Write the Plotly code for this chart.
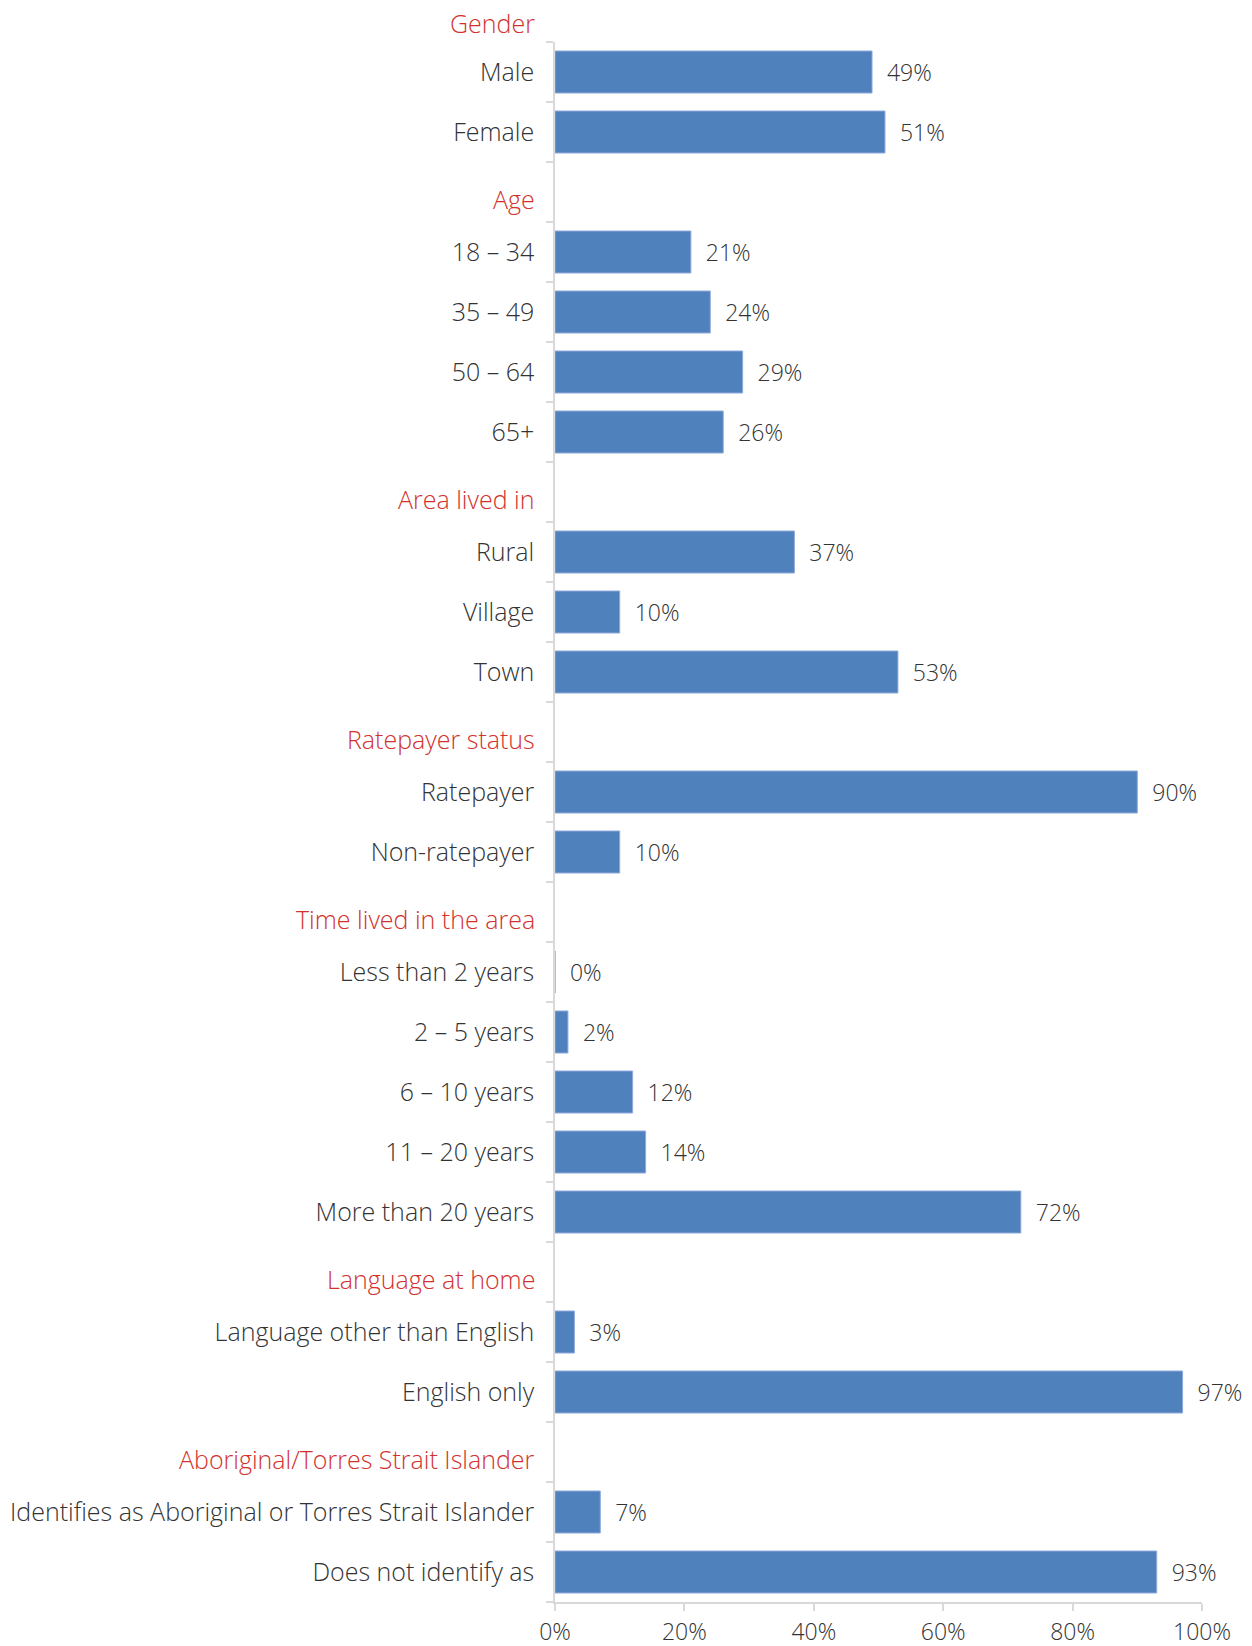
import plotly.graph_objects as go

# ---- data ----
group_names = ["Gender", "Age", "Area lived in", "Ratepayer status",
               "Time lived in the area", "Language at home",
               "Aboriginal/Torres Strait Islander"]

gender_labels = ["Male", "Female"]
gender_values = [49, 51]

age_labels = ["18 – 34", "35 – 49", "50 – 64", "65+"]
age_values = [21, 24, 29, 26]

area_labels = ["Rural", "Village", "Town"]
area_values = [37, 10, 53]

ratepayer_labels = ["Ratepayer", "Non-ratepayer"]
ratepayer_values = [90, 10]

time_labels = ["Less than 2 years", "2 – 5 years", "6 – 10 years",
               "11 – 20 years", "More than 20 years"]
time_values = [0, 2, 12, 14, 72]

language_labels = ["Language other than English", "English only"]
language_values = [3, 97]

atsi_labels = ["Identifies as Aboriginal or Torres Strait Islander",
               "Does not identify as"]
atsi_values = [7, 93]

x_tick_values = [0, 20, 40, 60, 80, 100]
x_tick_labels = ["0%", "20%", "40%", "60%", "80%", "100%"]

# ---- assemble categories (header rows are empty) ----
groups = [
    (gender_labels, gender_values),
    (age_labels, age_values),
    (area_labels, area_values),
    (ratepayer_labels, ratepayer_values),
    (time_labels, time_values),
    (language_labels, language_values),
    (atsi_labels, atsi_values),
]

cats, vals, texts, ticktext = [], [], [], []
for i, (name, (labels, values)) in enumerate(zip(group_names, groups)):
    if i > 0:
        cats.append(name)
        vals.append(None)
        texts.append("")
        ticktext.append("")
    for lab, v in zip(labels, values):
        cats.append(lab)
        vals.append(v)
        texts.append("\u00a0\u00a0" + f"{v}%")
        ticktext.append(lab)

FONT = "Open Sans"
WEIGHT = 300
TXT = "#333333"
RED = "#D2322D"
FS_CAT = 25
FS_NUM = 23

fig = go.Figure(go.Bar(
    x=vals, y=cats, orientation="h",
    marker=dict(color="#4F81BD", line=dict(color="#8EAADB", width=1)),
    text=texts, textposition="outside", cliponaxis=False,
    textfont=dict(family=FONT, size=FS_NUM, color=TXT, weight=WEIGHT),
    width=0.7,
    hoverinfo="skip",
))

annotations = []
for i, name in enumerate(group_names):
    if i == 0:
        annotations.append(dict(text=name, xref="paper", yref="paper", x=0, y=1,
                                xanchor="right", yanchor="middle", xshift=-18, yshift=19,
                                showarrow=False,
                                font=dict(family=FONT, size=FS_CAT, color=RED, weight=WEIGHT)))
    else:
        annotations.append(dict(text=name, xref="paper", yref="y", x=0, y=name,
                                xanchor="right", yanchor="middle", xshift=-18, yshift=-7,
                                showarrow=False,
                                font=dict(family=FONT, size=FS_CAT, color=RED, weight=WEIGHT)))

fig.update_layout(
    width=1252, height=1646,
    margin=dict(l=555, r=50, t=42, b=44, autoexpand=False),
    paper_bgcolor="white", plot_bgcolor="white",
    showlegend=False,
    font=dict(family=FONT, color=TXT, weight=WEIGHT),
    annotations=annotations,
    xaxis=dict(range=[0, 100], tickvals=x_tick_values, ticktext=x_tick_labels,
               showgrid=False, zeroline=False, showline=True, automargin=False,
               linecolor="#D9D9D9", linewidth=1.5,
               ticks="outside", ticklen=7, tickcolor="#D9D9D9", tickwidth=1.5,
               ticklabelstandoff=2,
               tickfont=dict(family=FONT, size=FS_NUM, color=TXT, weight=WEIGHT)),
    yaxis=dict(categoryorder="array", categoryarray=cats,
               tickvals=cats, ticktext=ticktext, automargin=False,
               autorange="reversed", showgrid=False, zeroline=False,
               showline=True, linecolor="#D9D9D9", linewidth=1.5,
               ticks="outside", tickson="boundaries", ticklen=7,
               tickcolor="#D9D9D9", tickwidth=1.5,
               ticklabelstandoff=14,
               tickfont=dict(family=FONT, size=FS_CAT, color=TXT, weight=WEIGHT)),
)

fig.write_html("out.html", config={"displayModeBar": False},
               post_script="document.body.style.margin='0';document.body.style.overflow='hidden';")
